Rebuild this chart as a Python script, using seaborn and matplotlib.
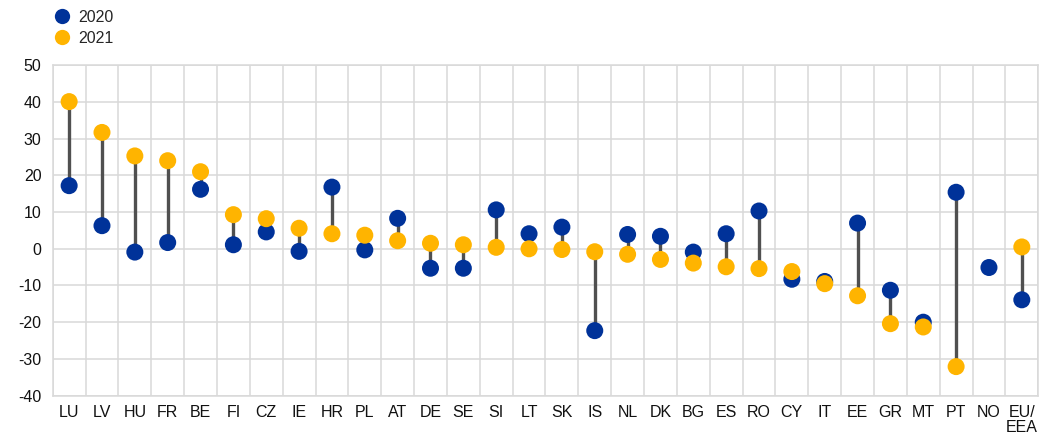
import numpy as np
import pandas as pd
import matplotlib
matplotlib.use("Agg")
import matplotlib.pyplot as plt
from matplotlib.lines import Line2D
import seaborn as sns

countries = ["LU", "LV", "HU", "FR", "BE", "FI", "CZ", "IE", "HR", "PL",
             "AT", "DE", "SE", "SI", "LT", "SK", "IS", "NL", "DK", "BG",
             "ES", "RO", "CY", "IT", "EE", "GR", "MT", "PT", "NO", "EU/\nEEA"]
values_2020 = [17.2, 6.3, -0.9, 1.7, 16.2, 1.1, 4.6, -0.7, 16.8, -0.3,
               8.3, -5.3, -5.3, 10.6, 4.1, 5.9, -22.3, 3.9, 3.4, -0.9,
               4.1, 10.3, -8.3, -8.9, 7.0, -11.3, -20.0, 15.4, -5.1, -13.9]
values_2021 = [40.1, 31.7, 25.3, 24.0, 21.0, 9.3, 8.2, 5.6, 4.1, 3.7,
               2.2, 1.5, 1.1, 0.4, 0.0, -0.2, -0.8, -1.5, -2.9, -3.9,
               -4.9, -5.4, -6.2, -9.5, -12.8, -20.4, -21.3, -32.1, np.nan, 0.5]
series = ["2020", "2021"]
y_ticks = [50, 40, 30, 20, 10, 0, -10, -20, -30, -40]

BLUE = "#003299"
YELLOW = "#FFB400"
GRID = "#d9d9d9"
TEXT = "#111111"
FS = 11.5

sns.set_theme(style="white")
plt.rcParams["font.family"] = ["Liberation Sans", "DejaVu Sans"]
plt.rcParams["font.size"] = FS

df = pd.DataFrame({"country": countries, "2020": values_2020, "2021": values_2021})
df["pos"] = np.arange(len(countries))
long = df.melt(id_vars=["country", "pos"], value_vars=series,
               var_name="year", value_name="value").dropna()

fig = plt.figure(figsize=(10.5, 4.44), dpi=100)
ax = fig.add_axes([0.0502, 0.109, 0.9386, 0.744])

# connectors between the two years
both = df.dropna()
ax.vlines(both["pos"], both["2020"], both["2021"], color="#505050",
          linewidth=2.4, zorder=2)

sns.scatterplot(data=long, x="pos", y="value", hue="year",
                hue_order=series, palette=[BLUE, YELLOW], s=150,
                edgecolor="none", linewidth=0, legend=False, ax=ax, zorder=3)

ax.set_xlim(-0.5, len(countries) - 0.5)
ax.set_ylim(-40, 50)
ax.set_yticks(y_ticks)
ax.set_yticklabels([str(v) for v in y_ticks], fontsize=FS, color=TEXT)
ax.set_xticks(np.arange(len(countries)))
ax.set_xticklabels(countries, fontsize=FS, color=TEXT, linespacing=1.0)
ax.set_xticks(np.arange(len(countries) + 1) - 0.5, minor=True)
ax.tick_params(axis="both", which="both", length=0)
ax.tick_params(axis="x", pad=7)
ax.tick_params(axis="y", pad=8)
ax.set_xlabel("")
ax.set_ylabel("")

ax.grid(False)
ax.grid(axis="y", which="major", color=GRID, linewidth=1.1)
ax.grid(axis="x", which="minor", color=GRID, linewidth=1.1)
ax.set_axisbelow(True)
for sp in ax.spines.values():
    sp.set_color(GRID)
    sp.set_linewidth(1.1)

handles = [Line2D([], [], marker="o", linestyle="", markersize=11,
                  markerfacecolor=c, markeredgecolor="none")
           for c in (BLUE, YELLOW)]
fig.legend(handles, series, loc="upper left", bbox_to_anchor=(0.045, 0.992),
           frameon=False, fontsize=FS, handletextpad=0.55, labelspacing=0.35,
           borderaxespad=0, handlelength=1.0)

fig.savefig("out.png", dpi=100)
